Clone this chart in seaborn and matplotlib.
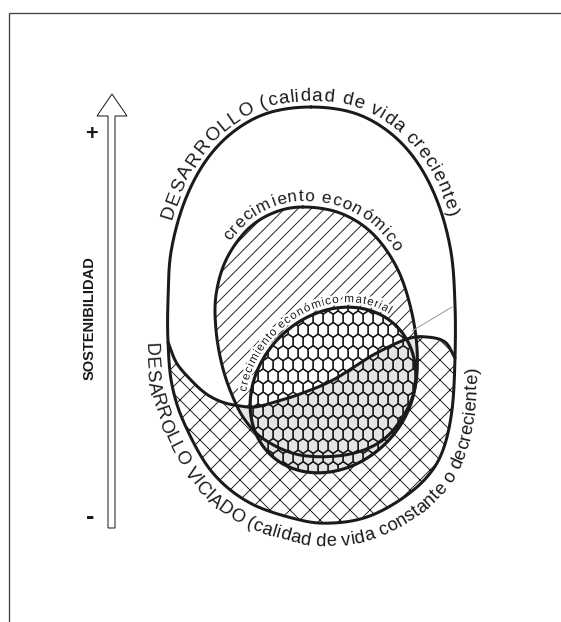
import numpy as np
import matplotlib
matplotlib.use("Agg")
import matplotlib.pyplot as plt
import seaborn as sns
import pandas as pd
from matplotlib.patches import Polygon
from matplotlib.collections import LineCollection
from matplotlib import font_manager
import matplotlib.patheffects as pe

W_PX, H_PX, DPI = 561, 622, 120

# ---------------- diagram geometry (pixel coords, y downward) ----------------
# whole egg outline (DESARROLLO + DESARROLLO VICIADO), clockwise from top
egg_x = [311, 354, 389, 417, 438, 451, 455, 455, 452, 443, 427, 400, 367, 333, 300, 250, 212, 185, 172, 168, 168, 171, 184, 205, 233, 268]
egg_y = [107, 113, 132, 162, 203, 252, 305, 358, 410, 450, 477, 500, 517, 523, 520, 503, 472, 425, 385, 342, 300, 252, 203, 162, 132, 113]
egg_split = [7, 19]          # control points where the dividing curve meets the egg
# dividing curve = upper edge of DESARROLLO VICIADO
div_x = [168, 176, 188, 205, 222, 240, 255, 275, 300, 333, 373, 407, 427, 445, 455]
div_y = [342, 362, 377, 393, 402, 406, 407, 402, 394, 380, 355, 339, 337, 342, 358]
# crecimiento económico outline, clockwise from top
crec_x = [303, 340, 372, 396, 410, 417, 415, 402, 380, 345, 300, 265, 245, 232, 222, 216, 216, 226, 247, 273]
crec_y = [207, 213, 233, 266, 305, 348, 388, 418, 442, 455, 455, 440, 420, 395, 365, 330, 295, 260, 230, 213]
# crecimiento económico material ellipse: centre x, centre y, semi-major, semi-minor, tilt (deg)
mat_ellipse = [333, 390, 90, 75, 45.0]

# ---------------- labels ----------------
top_label = "DESARROLLO (calidad de vida creciente)"
bottom_label = "DESARROLLO VICIADO (calidad de vida constante o decreciente)"
crec_label = "crecimiento económico"
mat_label = "crecimiento económico material"
axis_label = "SOSTENIBILIDAD"
plus_label, minus_label = "+", "-"

sns.set_theme(style="white")
FAM = ["Liberation Sans", "DejaVu Sans"]
plt.rcParams["font.family"] = FAM
plt.rcParams["hatch.linewidth"] = 0.55
plt.rcParams["hatch.color"] = "#1a1a1a"

INK = "#1a1a1a"


def catmull_closed(xs, ys, n=24):
    P = np.column_stack([xs, ys]).astype(float)
    m = len(P)
    t = np.linspace(0, 1, n, endpoint=False)[:, None]
    out = []
    for i in range(m):
        p0, p1, p2, p3 = P[(i - 1) % m], P[i], P[(i + 1) % m], P[(i + 2) % m]
        out.append(0.5 * (2 * p1 + (-p0 + p2) * t + (2 * p0 - 5 * p1 + 4 * p2 - p3) * t ** 2
                          + (-p0 + 3 * p1 - 3 * p2 + p3) * t ** 3))
    return np.vstack(out)


def catmull_open(xs, ys, n=24):
    P = np.column_stack([xs, ys]).astype(float)
    P = np.vstack([2 * P[0] - P[1], P, 2 * P[-1] - P[-2]])
    t = np.linspace(0, 1, n, endpoint=False)[:, None]
    out = []
    for i in range(1, len(P) - 2):
        p0, p1, p2, p3 = P[i - 1], P[i], P[i + 1], P[i + 2]
        out.append(0.5 * (2 * p1 + (-p0 + p2) * t + (2 * p0 - 5 * p1 + 4 * p2 - p3) * t ** 2
                          + (-p0 + 3 * p1 - 3 * p2 + p3) * t ** 3))
    out.append(P[-2][None, :])
    return np.vstack(out)


def ellipse_pts(cx, cy, a, b, ang, n=480):
    t = np.linspace(0, 2 * np.pi, n, endpoint=False)
    th = np.radians(ang)
    ox = a * np.cos(t) * np.cos(th) - b * np.sin(t) * np.sin(th)
    oy = a * np.cos(t) * np.sin(th) + b * np.sin(t) * np.cos(th)
    return np.column_stack([cx + ox, cy - oy])


def advances(text, size, weight="normal"):
    fp = font_manager.FontProperties(family=FAM, size=size, weight=weight)
    font = font_manager.get_font(font_manager.findfont(fp))
    font.set_size(size, DPI)
    return np.array([font.load_char(ord(ch)).linearHoriAdvance / 65536.0 for ch in text])


def curved_text(ax, pts, text, p_start, p_end, size, offset, clockwise=True, **kw):
    P = np.asarray(pts, float)
    xv, yv = P[:, 0], -P[:, 1]
    area = 0.5 * np.sum(xv * np.roll(yv, -1) - np.roll(xv, -1) * yv)
    if (area > 0) == clockwise:
        P = P[::-1]
    c = P.mean(axis=0)
    tang = np.roll(P, -1, axis=0) - np.roll(P, 1, axis=0)
    nrm = np.column_stack([tang[:, 1], -tang[:, 0]])
    nrm /= np.linalg.norm(nrm, axis=1)[:, None]
    if np.sum(np.sum(nrm * (P - c), axis=1)) < 0:
        nrm = -nrm
    B = P + offset * nrm
    i0 = np.argmin(np.hypot(*(B - np.array(p_start)).T))
    B = np.roll(B, -i0, axis=0)
    i1 = np.argmin(np.hypot(*(B - np.array(p_end)).T))
    seg = B[: i1 + 1]
    s = np.concatenate([[0], np.cumsum(np.hypot(*np.diff(seg, axis=0).T))])
    L = s[-1]
    adv = advances(text, size, kw.get("weight", "normal"))
    centers = (np.cumsum(adv) - adv / 2) * L / adv.sum()
    for ch, sc in zip(text, centers):
        x = np.interp(sc, s, seg[:, 0])
        y = np.interp(sc, s, seg[:, 1])
        xa, ya = np.interp(sc - 4, s, seg[:, 0]), np.interp(sc - 4, s, seg[:, 1])
        xb, yb = np.interp(sc + 4, s, seg[:, 0]), np.interp(sc + 4, s, seg[:, 1])
        ang = np.degrees(np.arctan2(-(yb - ya), xb - xa))
        ax.text(x, y, ch, rotation=ang, rotation_mode="anchor", ha="center",
                va="baseline", fontsize=size, color=INK, **kw)


def outline(ax, pts, lw, closed=True, color=INK):
    if closed:
        pts = np.vstack([pts, pts[:1]])
    df = pd.DataFrame({"x": pts[:, 0], "y": pts[:, 1]})
    sns.lineplot(data=df, x="x", y="y", sort=False, estimator=None, color=color,
                 linewidth=lw, ax=ax, legend=False)
    ax.lines[-1].set_solid_joinstyle("round")
    ax.lines[-1].set_solid_capstyle("round")


fig = plt.figure(figsize=(W_PX / DPI, H_PX / DPI), dpi=DPI)
ax = fig.add_axes([0, 0, 1, 1])
ax.set_xlim(0, W_PX)
ax.set_ylim(H_PX, 0)
ax.axis("off")

N = 24
egg = catmull_closed(egg_x, egg_y, N)
lower = egg[egg_split[0] * N: egg_split[1] * N + 1]
div = catmull_open(div_x, div_y, N)
vic = np.vstack([div, lower[1:]])
crec = catmull_closed(crec_x, crec_y, N)
mat = ellipse_pts(*mat_ellipse)

# frame
ax.plot([9, 9, W_PX], [H_PX, 13, 13], color="#444444", lw=0.8, solid_joinstyle="miter")

# crecimiento económico (hatched)
ax.add_patch(Polygon(crec, closed=True, facecolor="white", edgecolor=INK, lw=0, hatch="///"))
outline(ax, crec, 1.8)
# desarrollo viciado (cross hatched)
ax.add_patch(Polygon(vic, closed=True, facecolor="white", edgecolor=INK, lw=0, hatch="xx"))
# material growth ellipse (white)
mat_clip = Polygon(mat, closed=True, transform=ax.transData)
crec_clip = Polygon(crec, closed=True, transform=ax.transData)
ax.add_patch(Polygon(mat, closed=True, facecolor="white", lw=0))
# grey overlaps with viciado
for clip in (crec_clip, mat_clip):
    g = Polygon(vic, closed=True, facecolor="#e4e4e4", lw=0)
    ax.add_patch(g)
    g.set_clip_path(clip)

# honeycomb texture inside material ellipse
wd, sd, cp = 10.0, 8.2, 3.4
hexv = np.array([[0, -(sd / 2 + cp)], [wd / 2, -sd / 2], [wd / 2, sd / 2],
                 [0, sd / 2 + cp], [-wd / 2, sd / 2], [-wd / 2, -sd / 2], [0, -(sd / 2 + cp)]])
segs = []
x0, x1 = mat[:, 0].min() - 12, mat[:, 0].max() + 12
y0, y1 = mat[:, 1].min() - 12, mat[:, 1].max() + 12
r = 0
yc = y0
while yc < y1:
    xc = x0 + (wd / 2 if r % 2 else 0)
    while xc < x1:
        segs.append(hexv + [xc, yc])
        xc += wd
    yc += sd + cp
    r += 1
lc = LineCollection(segs, colors=INK, linewidths=0.8)
ax.add_collection(lc)
lc.set_clip_path(mat_clip)

# outlines
outline(ax, mat, 1.9)
outline(ax, div, 1.8, closed=False)
outline(ax, egg, 1.8)

# leader line
ax.plot([412, 452], [331, 307], color="#9a9a9a", lw=0.6)

# curved labels
curved_text(ax, egg, top_label, (171, 220), (452, 216), 11.3, 6, clockwise=True)
curved_text(ax, egg, bottom_label, (146, 343), (478, 368), 11.0, 23, clockwise=False)
curved_text(ax, crec, crec_label, (228, 240), (395, 252), 10.3, 6, clockwise=True)
curved_text(ax, mat, mat_label, (246, 392), (396, 304), 7.0, 5, clockwise=True,
            path_effects=[pe.withStroke(linewidth=3, foreground="white")])

# sustainability arrow
arrow = np.array([[108, 528], [108, 116], [97, 116], [112, 94], [127, 116], [115, 116], [115, 528]])
ax.add_patch(Polygon(arrow, closed=True, facecolor="white", edgecolor=INK, lw=0.6, joinstyle="miter"))
ax.text(90, 318, axis_label, rotation=90, ha="center", va="center", fontsize=8.8,
        fontweight="bold", color=INK)
ax.text(91.5, 135, plus_label, ha="center", va="center", fontsize=13, fontweight="bold", color=INK)
ax.text(90, 517, minus_label, ha="center", va="center", fontsize=15, fontweight="bold", color=INK)

ax.set_xlim(0, W_PX)
ax.set_ylim(H_PX, 0)
fig.savefig("out.png", dpi=DPI, facecolor="white")
